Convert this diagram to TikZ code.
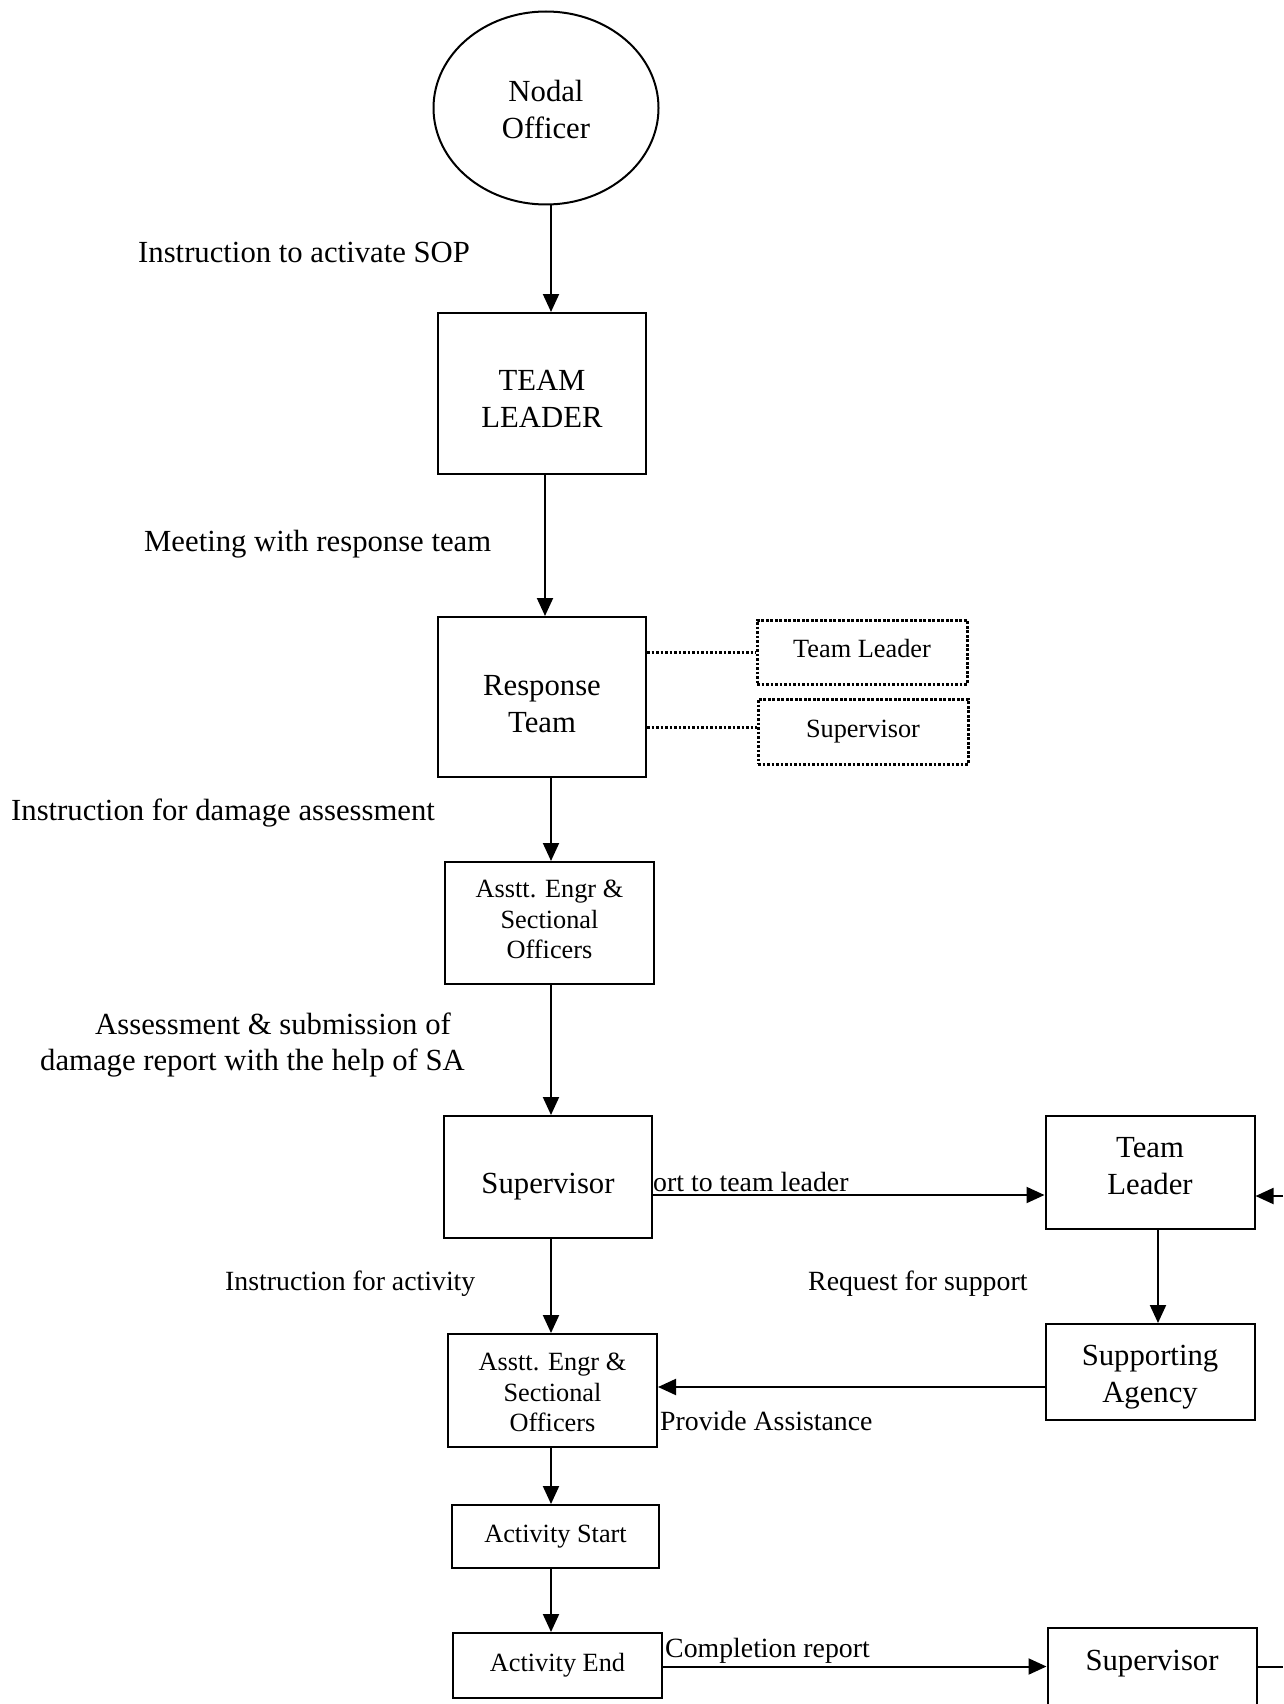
\documentclass[tikz,border=0pt]{standalone}
\usepackage{fontspec}
\setmainfont{Liberation Serif}
\usetikzlibrary{shapes.geometric,arrows.meta}
\begin{document}
\begin{tikzpicture}[x=1pt,y=-1pt,
  big/.style={font=\fontsize{30.7pt}{37pt}\selectfont},
  mid/.style={font=\fontsize{27.8pt}{33pt}\selectfont},
  small/.style={font=\fontsize{26.3pt}{30.4pt}\selectfont},
  box/.style={draw, line width=2pt, inner sep=0pt, align=center},
  dbox/.style={draw, line width=3pt, dash pattern=on 2.6pt off 1.9pt, inner sep=0pt, align=center},
  arr/.style={line width=2pt, -{Triangle[length=18pt,width=16pt]}},
  plain/.style={line width=2pt},
  dline/.style={line width=3pt, dash pattern=on 2.6pt off 1.9pt},
  txt/.style={label={[big, align=center, yshift=#1]center:}},
  lab/.style={big, anchor=base west, inner sep=0pt},
  lab2/.style={mid, anchor=base west, inner sep=0pt}]
\clip (0,0) rectangle (1283,1704);
\fill[white] (0,0) rectangle (1283,1704);

% nodes
\node[ellipse, draw, line width=2pt, inner sep=0pt, minimum width=225pt, minimum height=193pt,
  label={[big, align=center, yshift=-2pt]center:Nodal\\Officer}] (nodal) at (546,108) {};
\node[box, minimum width=208pt, minimum height=161pt,
  label={[big, align=center, yshift=-5.5pt]center:TEAM\\LEADER}] (tl1) at (542,393.5) {};
\node[box, minimum width=208pt, minimum height=160pt,
  label={[big, align=center, yshift=-7.5pt]center:Response\\Team}] (rt) at (542,697) {};
\node[dbox, minimum width=210pt, minimum height=64pt,
  label={[small, yshift=4pt]center:Team Leader}] (dtl) at (862,652) {};
\node[dbox, small, minimum width=210pt, minimum height=65pt] (dsv) at (863,731.5) {Supervisor};
\node[box, minimum width=209pt, minimum height=122pt,
  label={[small, align=center, yshift=3.5pt]center:Asstt. Engr \&\\Sectional\\Officers}] (ae1) at (549.5,923) {};
\node[box, minimum width=208pt, minimum height=122pt,
  label={[big, yshift=-10pt]center:Supervisor}] (sv1) at (548,1177) {};
\node[box, minimum width=209pt, minimum height=113pt,
  label={[big, align=center, yshift=5.5pt]center:Team\\Leader}] (tl2) at (1150,1172) {};
\node[box, minimum width=209pt, minimum height=96pt,
  label={[big, align=center, yshift=-5pt]center:Supporting\\Agency}] (sa) at (1150,1372) {};
\node[box, minimum width=209pt, minimum height=113pt,
  label={[small, align=center, yshift=-2pt]center:Asstt. Engr \&\\Sectional\\Officers}] (ae2) at (552.5,1390.5) {};
\node[box, small, minimum width=207pt, minimum height=63pt] (as) at (555.5,1536.5) {Activity Start};
\node[box, small, minimum width=209pt, minimum height=65pt] (ae) at (557.5,1665.5) {Activity End};
\node[box, big, minimum width=209pt, text height=42pt, text depth=60pt, anchor=north] (sv2) at (1152,1627) {Supervisor};

% labels
\node[lab] (l1) at (138,262) {Instruction to activate SOP};
\node[lab] (l2) at (144,551) {Meeting with response team};
\node[lab] (l3) at (11,820) {Instruction for damage assessment};
\node[lab] (l4a) at (95,1034) {Assessment \& submission of};
\node[lab] (l4b) at (40,1070) {damage report with the help of SA};
\node[lab2] (l5) at (653,1191) {ort to team leader};
\node[lab2] (l6) at (225,1290) {Instruction for activity};
\node[lab2] (l7) at (808,1290) {Request for support};
\node[lab2] (l8) at (660,1430) {Provide Assistance};
\node[lab2] (l9) at (665,1657) {Completion report};

% vertical arrows
\draw[arr] ([xshift=5pt]nodal.south) -- ([xshift=9pt]tl1.north);
\draw[arr] ([xshift=3pt]tl1.south) -- ([xshift=3pt]rt.north);
\draw[arr] ([xshift=9pt]rt.south) -- ([xshift=1.5pt]ae1.north);
\draw[arr] ([xshift=1.5pt]ae1.south) -- ([xshift=3pt]sv1.north);
\draw[arr] ([xshift=3pt]sv1.south) -- ([xshift=-1.5pt]ae2.north);
\draw[arr] ([xshift=-1.5pt]ae2.south) -- ([xshift=-4.5pt]as.north);
\draw[arr] ([xshift=-4.5pt]as.south) -- ([xshift=-6.5pt]ae.north);
\draw[arr] ([xshift=8pt]tl2.south) -- ([xshift=8pt]sa.north);

% horizontal arrows
\coordinate (r1) at ([yshift=-18pt]sv1.east);
\draw[arr] (r1) -- (r1 -| tl2.west);
\coordinate (e1) at (1283,1196);
\draw[arr] (e1) -- (e1 -| tl2.east);
\coordinate (r2) at ([yshift=-15pt]sa.west);
\draw[arr] (r2) -- (r2 -| ae2.east);
\coordinate (r3) at ([yshift=-1pt]ae.east);
\draw[arr] (r3) -- (r3 -| sv2.west);
\coordinate (e2) at (1283,1667);
\draw[plain] (e2 -| sv2.east) -- (e2);

% dotted connectors
\draw[dline] (rt.east |- dtl.west) -- (dtl.west);
\coordinate (d2) at ([yshift=4pt]dsv.west);
\draw[dline] (d2 -| rt.east) -- (d2);
\end{tikzpicture}
\end{document}
